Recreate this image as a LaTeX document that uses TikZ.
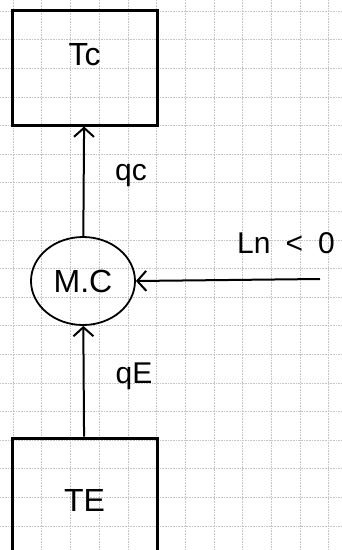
\documentclass[tikz,border=0pt]{standalone}
\usepackage{fontspec}
\setmainfont{Liberation Sans}
\usetikzlibrary{arrows.meta,shapes.geometric}

\begin{document}
\begin{tikzpicture}[x=1pt,y=-1pt,
  gridline/.style={gray!45,densely dotted,line width=0.6pt},
  tank/.style={draw,line width=3pt,minimum width=145pt,inner sep=0pt,font=\fontsize{32}{34}\selectfont},
  machine/.style={draw,ellipse,line width=1.8pt,minimum width=104pt,minimum height=88pt,inner sep=0pt,font=\fontsize{32}{34}\selectfont},
  flow/.style={line width=2pt,-{Straight Barb[length=9pt,width=20pt,line width=2pt]}},
  lbl/.style={font=\fontsize{30}{32}\selectfont}]
  \useasboundingbox (0,0) rectangle (342,550);
  \fill[white] (0,0) rectangle (342,550);
  \foreach \i in {0,...,11}
    \draw[gridline] ({13+28.7*\i},0) -- ({13+28.7*\i},550);
  \foreach \j in {0,...,19}
    \draw[gridline] (0,{11+28.6*\j}) -- (342,{11+28.6*\j});
  \node[tank,minimum height=115pt,text depth=26pt] (Tc) at (84.5,67.5) {Tc};
  \node[tank,minimum height=124pt] (TE) at (84.5,500) {TE};
  \node[machine] (MC) at (83,281) {M.C};
  \coordinate (Lin) at (320,279);
  \draw[flow] (MC) -- (Tc);
  \draw[flow] (TE) -- (MC);
  \draw[flow] (Lin) -- (MC.east);
  \node[lbl] (qc) at (131,176) {qc};
  \node[lbl] (qE) at (134,376) {qE};
  \node[lbl] (Ln) at (286,243) {Ln\enspace<\enspace0};
\end{tikzpicture}
\end{document}
